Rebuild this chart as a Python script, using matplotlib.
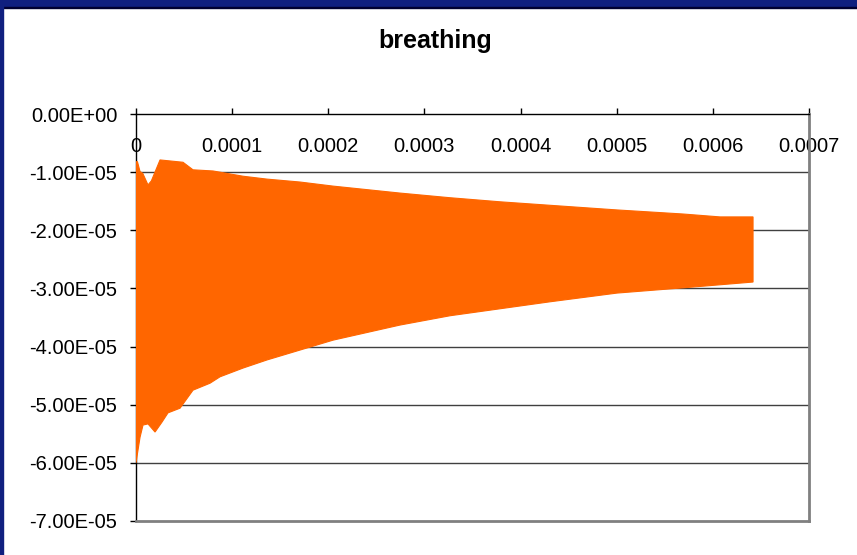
import matplotlib

matplotlib.use("Agg")
import matplotlib.pyplot as plt
import numpy as np
from matplotlib.patches import Rectangle
from matplotlib.ticker import FuncFormatter

plt.rcParams["font.family"] = ["Liberation Sans", "DejaVu Sans"]

# Envelope of the dense oscillation
UPPER_X = [0.0, 1.5e-6, 4.2e-6, 7.0e-6, 1.25e-5, 1.6e-5, 2.5e-5, 4.89e-5, 5.93e-5,
           8.01e-5, 1.113e-4, 1.363e-4, 1.706e-4, 2.049e-4, 2.746e-4, 3.266e-4,
           3.786e-4, 4.306e-4, 5.003e-4, 5.690e-4, 6.075e-4, 6.418e-4]
UPPER_Y = [-0.82e-5, -0.82e-5, -0.99e-5, -1.02e-5, -1.22e-5, -1.15e-5, -0.79e-5,
           -0.83e-5, -0.96e-5, -0.98e-5, -1.07e-5, -1.12e-5, -1.17e-5, -1.24e-5,
           -1.36e-5, -1.44e-5, -1.51e-5, -1.57e-5, -1.65e-5, -1.72e-5, -1.77e-5,
           -1.77e-5]

LOWER_X = [0.0, 2.1e-6, 4.2e-6, 7.3e-6, 1.25e-5, 1.98e-5, 2.70e-5, 3.33e-5, 4.58e-5,
           5.93e-5, 7.70e-5, 8.74e-5, 1.113e-4, 1.363e-4, 1.706e-4, 2.049e-4,
           2.746e-4, 3.266e-4, 3.786e-4, 4.306e-4, 5.003e-4, 5.690e-4, 6.418e-4]
LOWER_Y = [-6.00e-5, -5.78e-5, -5.56e-5, -5.35e-5, -5.33e-5, -5.47e-5, -5.30e-5,
           -5.14e-5, -5.06e-5, -4.75e-5, -4.63e-5, -4.52e-5, -4.37e-5, -4.23e-5,
           -4.06e-5, -3.89e-5, -3.63e-5, -3.47e-5, -3.35e-5, -3.23e-5, -3.08e-5,
           -2.99e-5, -2.89e-5]

X_TICKS = [0, 0.0001, 0.0002, 0.0003, 0.0004, 0.0005, 0.0006, 0.0007]
X_LABELS = ["0", "0.0001", "0.0002", "0.0003", "0.0004", "0.0005", "0.0006", "0.0007"]
Y_TICKS = [0, -1e-5, -2e-5, -3e-5, -4e-5, -5e-5, -6e-5, -7e-5]

ORANGE = "#FF6600"
NAVY = "#10207F"

fig = plt.figure(figsize=(8.57, 5.55), dpi=100, facecolor="white")

# Window frame (dark blue strips at top and left)
fig.patches.append(Rectangle((0, 1 - 7 / 555), 1, 7 / 555, transform=fig.transFigure,
                             color=NAVY, zorder=0))
fig.patches.append(Rectangle((0, 1 - 8 / 555), 1, 1 / 555, transform=fig.transFigure,
                             color="#000030", zorder=0))
fig.patches.append(Rectangle((0, 0), 3 / 857, 1, transform=fig.transFigure,
                             color=NAVY, zorder=0))

ax = fig.add_axes([136 / 857, 1 - 521 / 555, (809 - 136) / 857, (521 - 114) / 555])

poly_x = np.concatenate([UPPER_X, LOWER_X[::-1]])
poly_y = np.concatenate([UPPER_Y, LOWER_Y[::-1]])
ax.fill(poly_x, poly_y, color=ORANGE, linewidth=0.8, edgecolor=ORANGE, zorder=3)

ax.set_xlim(0, 0.0007)
ax.set_ylim(-7e-5, 0)

for y in Y_TICKS[1:-1]:
    ax.axhline(y, color="#404040", linewidth=1.0, zorder=1)

ax.set_yticks(Y_TICKS)
ax.yaxis.set_major_formatter(FuncFormatter(lambda v, _: f"{v:.2E}"))
ax.tick_params(axis="y", direction="out", length=4.5, width=1, pad=9,
               labelsize=14.5, colors="black")

ax.set_xticks(X_TICKS)
ax.set_xticklabels(X_LABELS)
ax.xaxis.tick_top()
ax.tick_params(axis="x", direction="out", length=4, width=1, pad=-34.5,
               labelsize=14.5, colors="black")

ax.spines["left"].set_color("black")
ax.spines["left"].set_linewidth(1.0)
ax.spines["top"].set_color("black")
ax.spines["top"].set_linewidth(1.0)
ax.spines["right"].set_color("#808080")
ax.spines["right"].set_linewidth(2.0)
ax.spines["bottom"].set_color("#808080")
ax.spines["bottom"].set_linewidth(2.0)
for lab in ax.get_xticklabels():
    lab.set_zorder(5)

fig.text(435 / 857, 1 - 41 / 555, "breathing", ha="center", va="center",
         fontsize=18, fontweight="bold")

fig.savefig("out.png", dpi=100, facecolor="white")
